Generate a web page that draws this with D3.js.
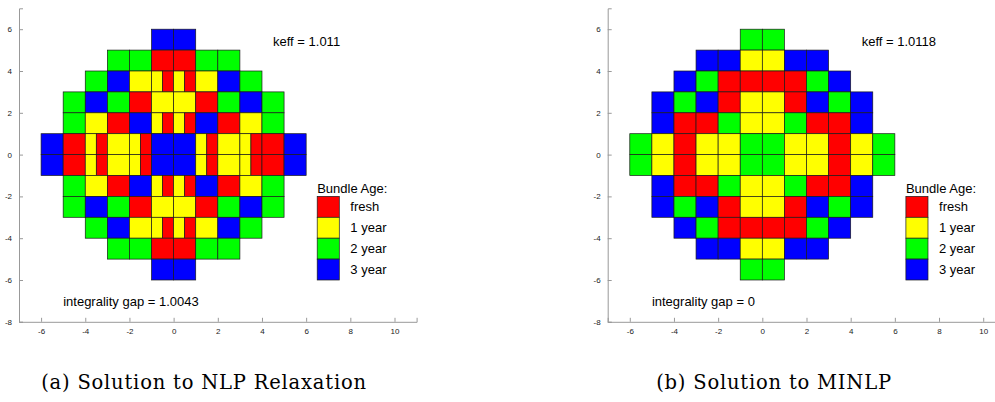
<!DOCTYPE html>
<html>
<head>
<meta charset="utf-8">
<script src="https://cdn.jsdelivr.net/npm/d3@7"></script>
<style>
  body { margin: 0; background: #fff; }
  svg { display: block; }
</style>
</head>
<body>
<script>
// core maps, rows from y=6 (top) down to y=-6, "YR" = cell split half 1 year / half fresh
var nlpRows = [
  ["B","B"],
  ["G","G","R","R","G","G"],
  ["G","B","Y","YR","YR","Y","B","G"],
  ["G","B","G","R","Y","Y","R","G","B","G"],
  ["G","Y","R","B","YR","YR","B","R","Y","G"],
  ["B","R","YR","Y","YR","B","B","YR","Y","YR","R","B"],
  ["B","R","YR","Y","YR","B","B","YR","Y","YR","R","B"],
  ["G","Y","R","B","YR","YR","B","R","Y","G"],
  ["G","B","G","R","Y","Y","R","G","B","G"],
  ["G","B","Y","YR","YR","Y","B","G"],
  ["G","G","R","R","G","G"],
  ["B","B"]
];
var minlpRows = [
  ["G","G"],
  ["B","B","Y","Y","B","B"],
  ["B","G","R","R","R","R","G","B"],
  ["B","G","B","R","Y","Y","R","B","G","B"],
  ["B","R","R","G","Y","Y","G","R","R","B"],
  ["G","Y","R","Y","Y","G","G","Y","Y","R","Y","G"],
  ["G","Y","R","Y","Y","G","G","Y","Y","R","Y","G"],
  ["B","R","R","G","Y","Y","G","R","R","B"],
  ["B","G","B","R","Y","Y","R","B","G","B"],
  ["B","G","R","R","R","R","G","B"],
  ["B","B","Y","Y","B","B"],
  ["G","G"]
];
var ageCodes = ["R","Y","G","B"];
var ageLabels = ["fresh","1 year","2 year","3 year"];
var ageColors = ["#ff0000","#ffff00","#00ff00","#0000ff"];
var xTicks = [-6,-4,-2,0,2,4,6,8,10];
var yTicks = [-8,-6,-4,-2,0,2,4,6];
var keffs = ["keff = 1.011","keff = 1.0118"];
var gaps = ["integrality gap = 1.0043","integrality gap = 0"];
var captions = ["(a) Solution to NLP Relaxation","(b) Solution to MINLP"];

var W = 995, H = 402;
var svg = d3.select("body").append("svg").attr("width", W).attr("height", H);
var color = d3.scaleOrdinal().domain(ageCodes).range(ageColors);

function panel(rows, idx, x0, capX) {
  var x = d3.scaleLinear().domain([-7, 11]).range([x0, x0 + 397.6]);
  var y = d3.scaleLinear().domain([-8, 7]).range([321.8, 8.3]);
  var g = svg.append("g");

  // cells
  rows.forEach(function(row, r) {
    var yTop = 6 - r;
    var xs = -row.length / 2;
    row.forEach(function(code, c) {
      var parts = code.split("");
      var cx = xs + c;
      parts.forEach(function(p, k) {
        g.append("rect")
          .attr("x", x(cx + k / parts.length))
          .attr("y", y(yTop))
          .attr("width", x(cx + (k + 1) / parts.length) - x(cx + k / parts.length))
          .attr("height", y(yTop - 1) - y(yTop))
          .attr("fill", color(p))
          .attr("stroke", "#1a1a1a").attr("stroke-width", 0.7);
      });
    });
  });

  // axes
  var ax = d3.axisBottom(x).tickValues(xTicks).tickSize(-4).tickPadding(7).tickFormat(String);
  var ay = d3.axisLeft(y).tickValues(yTicks).tickSize(-4).tickPadding(7).tickFormat(String);
  var gx = g.append("g").attr("transform", "translate(0," + y(-8) + ")").call(ax);
  var gy = g.append("g").attr("transform", "translate(" + x(-7) + ",0)").call(ay);
  [gx, gy].forEach(function(a) {
    a.select(".domain").attr("stroke", "#999");
    a.selectAll(".tick line").attr("stroke", "#999");
    a.selectAll("text").attr("font-family", "Liberation Sans, Arial, sans-serif")
      .attr("font-size", 8).attr("fill", "#222");
  });

  var tf = "Liberation Sans, Arial, sans-serif";
  g.append("text").attr("x", x(4.5)).attr("y", y(5.4)).attr("dy", "0.35em")
    .attr("font-family", tf).attr("font-size", 13).text(keffs[idx]);
  g.append("text").attr("x", x(-5)).attr("y", y(-7.05)).attr("dy", "0.35em")
    .attr("font-family", tf).attr("font-size", 13).text(gaps[idx]);

  // legend
  g.append("text").attr("x", x(6.5)).attr("y", y(-1.6)).attr("dy", "0.35em")
    .attr("font-family", tf).attr("font-size", 13).text("Bundle Age:");
  ageCodes.forEach(function(a, i) {
    g.append("rect")
      .attr("x", x(6.5)).attr("y", y(-2 - i))
      .attr("width", x(7.5) - x(6.5)).attr("height", y(-3 - i) - y(-2 - i))
      .attr("fill", ageColors[i]).attr("stroke", "#1a1a1a").attr("stroke-width", 0.7);
    g.append("text").attr("x", x(8)).attr("y", y(-2.5 - i)).attr("dy", "0.35em")
      .attr("font-family", tf).attr("font-size", 13).text(ageLabels[i]);
  });

  svg.append("text").attr("x", capX).attr("y", 389)
    .attr("text-anchor", "middle")
    .attr("font-family", "DejaVu Serif, serif").attr("font-size", 19.5)
    .attr("letter-spacing", 0.8)
    .text(captions[idx]);
}

panel(nlpRows, 0, 19, 204);
panel(minlpRows, 1, 607.7, 774);
</script>
</body>
</html>
